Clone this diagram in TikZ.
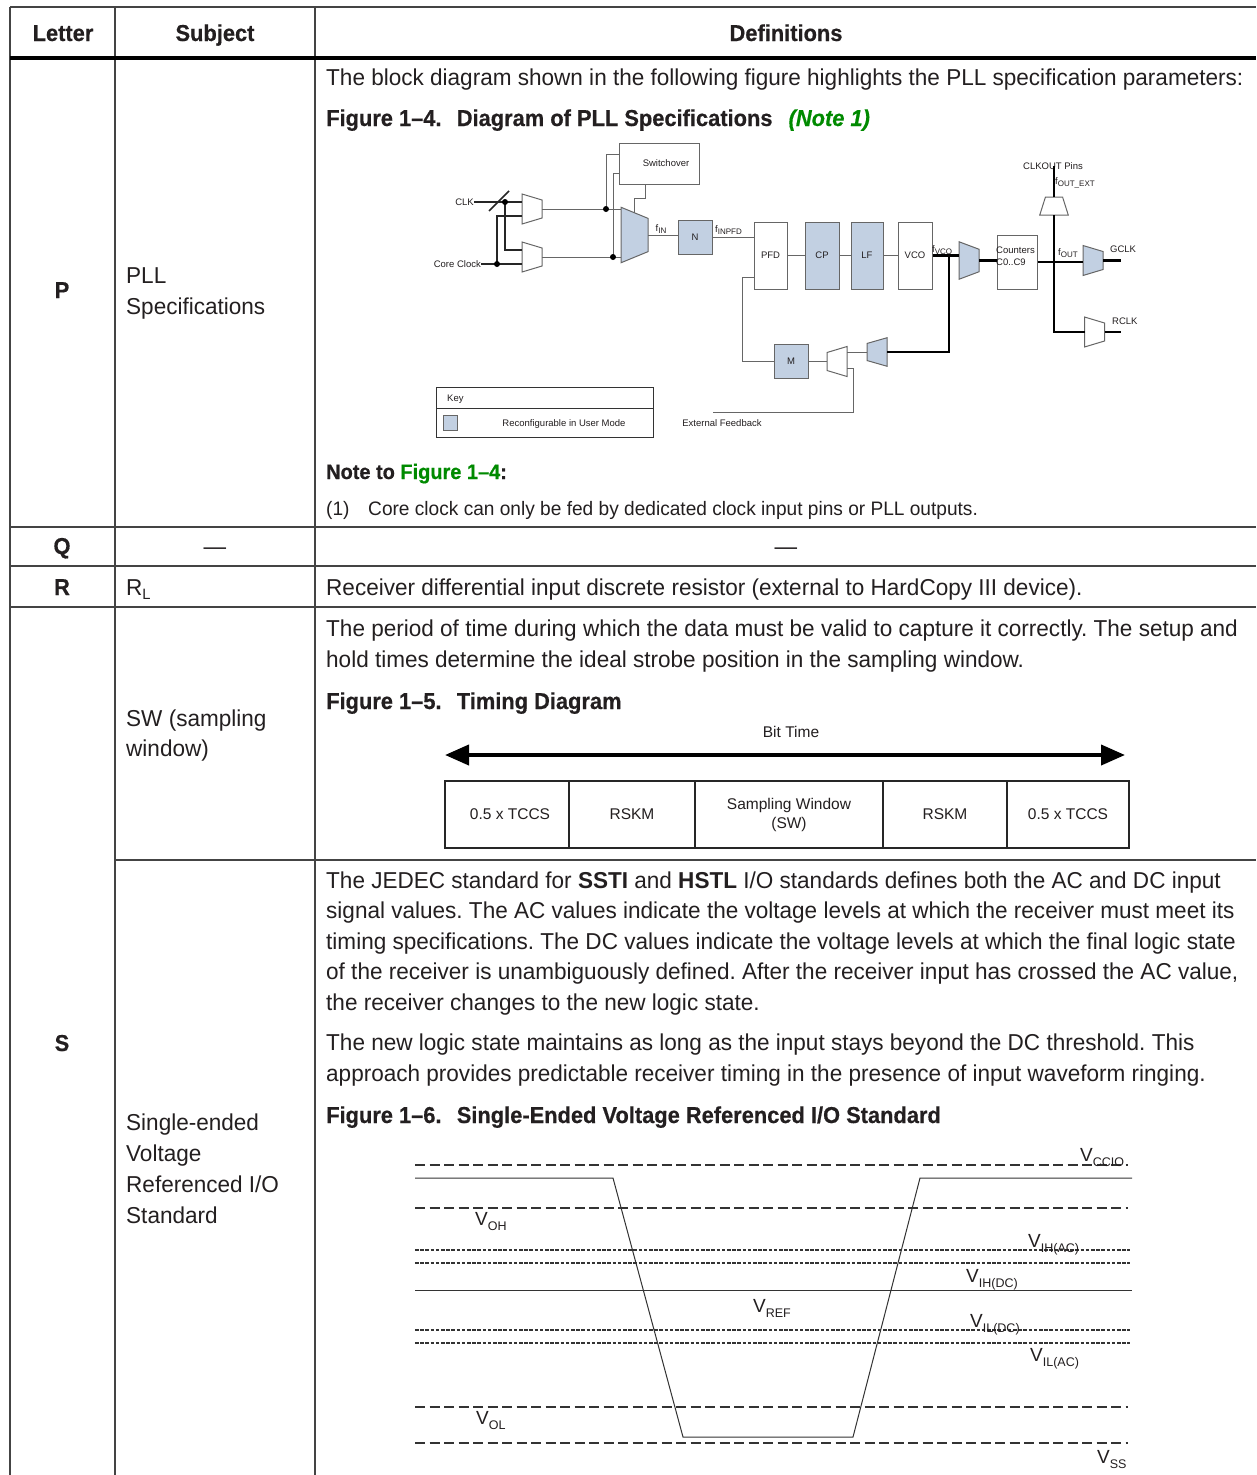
\documentclass[tikz,border=0pt]{standalone}
\usepackage{fontspec}
\setmainfont{Liberation Sans}
\newfontfamily\figfont{Liberation Sans}
\newfontfamily\bodyfont[FakeStretch=0.98]{Liberation Sans}
\newfontfamily\headfont[FakeStretch=0.95,FakeBold=0.5]{Liberation Sans Bold}
\newfontfamily\headitfont[FakeStretch=0.95,FakeBold=0.5]{Liberation Sans Bold Italic}
\usetikzlibrary{arrows.meta,positioning,calc}
\frenchspacing

\definecolor{txt}{HTML}{231F20}
\definecolor{rule}{HTML}{444444}
\definecolor{pllblue}{HTML}{C2D0E2}
\definecolor{pllline}{HTML}{666666}
\definecolor{fignote}{HTML}{008A00}

\newcommand\lsub[1]{\raisebox{-0.25em}{\fontsize{8}{8}\selectfont #1}}
\newcommand\vsub[1]{\raisebox{-0.28em}{\fontsize{12.5}{12.5}\selectfont #1}}

\tikzset{
  body/.style={anchor=base west, inner sep=0pt, align=left, text=txt,
    font=\bodyfont\fontsize{23}{30.5}\selectfont},
  head/.style={anchor=base west, inner sep=0pt, text=txt,
    font=\headfont\fontsize{23}{30}\selectfont},
  hcell/.style={head, anchor=base},
  grid/.style={draw=rule, line width=1.5pt},
  lbl/.style={inner sep=0pt, text=txt, font=\figfont\fontsize{9.5}{11.5}\selectfont},
  blk/.style={draw=pllline, line width=1pt, fill=white, minimum width=34pt,
    minimum height=67pt, inner sep=0pt, text=txt, font=\figfont\fontsize{9.5}{11.5}\selectfont},
  cfg/.style={blk, fill=pllblue},
  wire/.style={draw=pllline, line width=1pt},
  clkln/.style={draw=black!85, line width=1.5pt},
  thickln/.style={draw=black, line width=2.5pt},
  jdot/.style={circle, fill=black, inner sep=0pt, minimum size=6pt},
  tbox/.style={draw=black!85, line width=2pt, minimum height=67pt, inner sep=0pt,
    outer sep=0pt, align=center, text=txt, font=\figfont\fontsize{15.5}{19}\selectfont},
  vlbl/.style={anchor=base west, inner sep=0pt, text=txt, font=\figfont\fontsize{19}{20}\selectfont},
  longdash/.style={draw=black!80, line width=2pt, dash pattern=on 10pt off 4.5pt},
  shortdash/.style={draw=black!80, line width=1.6pt, dash pattern=on 3.5pt off 1.7pt},
  vline/.style={draw=black!80, line width=1pt},
  muxr/.pic={
    \filldraw[draw=pllline, fill=#1, line width=1pt]
      (-10,-15) -- (10,-9) -- (10,9) -- (-10,15) -- cycle;
    \coordinate (-in) at (-10,0);
    \coordinate (-in1) at (-10,-7);
    \coordinate (-in2) at (-10,7);
    \coordinate (-out) at (10,0);
    \coordinate (-sel) at (0,-12);
  }
}

\begin{document}
\begin{tikzpicture}[x=1pt, y=-1pt]
\useasboundingbox[fill=white] (0,0) rectangle (1256,1475);

% table frame
\draw[grid] (10,7) -- (1256,7);
\foreach \x in {10,115,315} \draw[grid] (\x,7) -- (\x,1475);
\draw[line width=4pt] (10,58) -- (1256,58);
\foreach \y in {527,566,607} \draw[grid] (10,\y) -- (1256,\y);
\draw[grid] (115,860) -- (1256,860);

% header
\node[hcell] (hletter) at (63,41) {Letter};
\node[hcell] (hsubject) at (215,41) {Subject};
\node[hcell] (hdef) at (786,41) {Definitions};

% letters and subjects (multi-line nodes sit on their last line)
\node[hcell] (lp) at (62,298) {P};
\node[hcell] (lq) at (62,554) {Q};
\node[hcell] (lr) at (62,595) {R};
\node[hcell] (ls) at (62,1051) {S};
\node[body, font=\bodyfont\fontsize{23}{31}\selectfont] (sp) at (126,314) {PLL\\Specifications};
\node[body, anchor=base] (sq) at (215,554) {—};
\node[body] (sr) at (126,595) {R\raisebox{-4pt}{\fontsize{15}{15}\selectfont L}};
\node[body, font=\bodyfont\fontsize{23}{30}\selectfont] (ssw) at (126,756) {SW (sampling\\window)};
\node[body, font=\bodyfont\fontsize{23}{30.7}\selectfont] (sse) at (126,1223)
  {Single-ended\\Voltage\\Referenced I/O\\Standard};

% definitions
\node[body] (dp) at (326,85) {The block diagram shown in the following figure highlights the PLL specification parameters:};
\node[head] (f14) at (326,126) {Figure 1–4.\hspace{0.4em} Diagram of PLL Specifications\hspace{0.7em}{\headitfont\color{fignote}(Note 1)}};
\node[head, font=\headfont\fontsize{21}{28}\selectfont] (n14) at (326,479) {Note to {\color{fignote}Figure 1–4}:};
\node[body, font=\bodyfont\fontsize{19.5}{26}\selectfont] (n1) at (326,515) {(1)};
\node[body, font=\bodyfont\fontsize{19.5}{26}\selectfont] (n1t) at (368,515) {Core clock can only be fed by dedicated clock input pins or PLL outputs.};
\node[body, anchor=base] (dq) at (786,554) {—};
\node[body] (dr) at (326,595) {Receiver differential input discrete resistor (external to HardCopy III device).};
\node[body] (dsw) at (326,667) {The period of time during which the data must be valid to capture it correctly. The setup and\\hold times determine the ideal strobe position in the sampling window.};
\node[head] (f15) at (326,709) {Figure 1–5.\hspace{0.4em} Timing Diagram};
\node[body] (dse1) at (326,1010) {The JEDEC standard for \textbf{SSTI} and \textbf{HSTL} I/O standards defines both the AC and DC input\\signal values. The AC values indicate the voltage levels at which the receiver must meet its\\timing specifications. The DC values indicate the voltage levels at which the final logic state\\of the receiver is unambiguously defined. After the receiver input has crossed the AC value,\\the receiver changes to the new logic state.};
\node[body] (dse2) at (326,1081) {The new logic state maintains as long as the input stays beyond the DC threshold. This\\approach provides predictable receiver timing in the presence of input waveform ringing.};
\node[head] (f16) at (326,1123) {Figure 1–6.\hspace{0.4em} Single-Ended Voltage Referenced I/O Standard};

% PLL block diagram
\node[blk, minimum width=80pt, minimum height=41pt] (sw) at (659,163.5) {\hspace*{14pt}Switchover};
\node[lbl, anchor=east] (clk) at (474,202) {CLK};
\node[lbl, anchor=east] (core) at (481,264) {Core Clock};
\pic (m1) at (532,209) {muxr=white};
\pic (m2) at (532,257) {muxr=white};
\pic[xscale=1.35, yscale=1.85] (mm) at (634.5,235) {muxr=pllblue};
\node[cfg, minimum height=34pt] (n) at (695,237) {N};
\node[blk, minimum width=33pt] (pfd) at (770.5,255.5) {PFD};
\node[cfg] (cp) at (822,255.5) {CP};
\node[cfg, minimum width=32pt] (lf) at (867,255.5) {LF};
\node[blk] (vco) at (915,255.5) {VCO};
\pic[yscale=1.25] (pv) at (969,260.5) {muxr=pllblue};
\node[blk, minimum width=40pt, minimum height=54pt] (cnt) at (1017,262) {};
\node[lbl, anchor=west, align=left] (cntl) at (996,256) {Counters\\C0..C9};
\pic (g) at (1093,260.5) {muxr=pllblue};
\pic[rotate=90, xscale=0.9, yscale=0.95] (co) at (1054,206) {muxr=white};
\pic (r) at (1094.5,332) {muxr=white};
\node[cfg, minimum height=34pt] (m) at (791,361) {M};
\pic[xscale=-1, yscale=0.95] (fbb) at (877,352) {muxr=pllblue};
\pic[xscale=-1] (fbw) at (837,361.5) {muxr=white};

\coordinate (clkdot) at (505,202);
\coordinate (coredot) at (497,264);
\coordinate (jtop) at (606,209);
\coordinate (jbot) at (613,257);
\coordinate (fvco) at (949,255.5);
\coordinate (fout) at (1054,262);
\coordinate (gend) at (1121,260.5);
\coordinate (rend) at (1121,332);
\coordinate (efb) at (713,412);

\draw[clkln] (clk.east) -- (m1-in1);
\draw[clkln] (clkdot) |- (m2-in1);
\draw[clkln] (core.east) -- (m2-in2);
\draw[clkln] (coredot) |- (m1-in2);
\draw[clkln] (489,211) -- (509,191);
\draw[wire] (m1-out) -- (m1-out -| mm-in);
\draw[wire] (m2-out) -- (m2-out -| mm-in);
\draw[wire] (jtop) |- ([yshift=9.5pt]sw.west);
\draw[wire] (jbot) |- ([yshift=-9.5pt]sw.west);
\draw[wire] ([xshift=-14pt]sw.south) -- ++(0,14) -| (mm-sel);
\draw[wire] (mm-out) -- (mm-out -| n.west);
\draw[wire] (n.east) -- (n.east -| pfd.west);
\draw[wire] (pfd.east) -- (cp.west);
\draw[wire] (cp.east) -- (lf.west);
\draw[wire] (lf.east) -- (vco.west);
\draw[thickln] (vco.east) -- (vco.east -| pv-in);
\draw[thickln] (pv-out) -- (pv-out -| cnt.west);
\draw[thickln] (cnt.east) -- (cnt.east -| g-in);
\draw[thickln] (g-out) -- (gend);
\draw[thickln] (fout) -- (co-in);
\node[lbl] (clkout) at (1053,166) {CLKOUT Pins};
\draw[thickln] (co-out) -- (co-out |- clkout.center);
\draw[thickln] (fout) |- (r-in);
\draw[thickln] (r-out) -- (rend);
\draw[thickln] (fvco) |- (fbb-in);
\draw[wire] (fbb-out) -- (fbb-out -| fbw-in1);
\draw[wire] (fbw-in2) -- ++(6,0) |- (efb);
\draw[wire] (fbw-out) -- (fbw-out -| m.east);
\draw[wire] (m.west) -- ++(-31,0) |- ([yshift=-21.5pt]pfd.west);

\node[jdot] (d1) at (clkdot) {};
\node[jdot] (d2) at (coredot) {};
\node[jdot] (d3) at (jtop) {};
\node[jdot] (d4) at (jbot) {};

\node[lbl] (fin) at (661,229) {f\lsub{IN}};
\node[lbl, anchor=west] (finpfd) at (715,230) {f\lsub{INPFD}};
\node[lbl, anchor=west] (fvcol) at (932,250) {f\lsub{VCO}};
\node[lbl, anchor=west] (foutl) at (1058,253) {f\lsub{OUT}};
\node[lbl, anchor=west] (gclk) at (1110,249) {GCLK};
\node[lbl, anchor=west] (rclk) at (1112,321) {RCLK};
\node[lbl, anchor=west] (foutext) at (1055,183) {f\lsub{OUT\_EXT}};
\node[lbl] (extfbl) at (722,423) {External Feedback};

% key
\node[draw=black!80, line width=1pt, minimum width=217pt, minimum height=50pt, inner sep=0pt,
  anchor=north west] (key) at (436,387) {};
\draw[draw=black!80, line width=1pt] ([yshift=-21pt]key.north west) -- ([yshift=-21pt]key.north east);
\node[lbl, anchor=west] (keyl) at (447,399) {Key};
\node[cfg, minimum width=14pt, minimum height=15pt] (keysq) at (450,422.5) {};
\node[lbl] (keyt) at (564,424) {Reconfigurable in User Mode};

% timing diagram
\node[lbl, font=\figfont\fontsize{15.5}{19}\selectfont] (bittime) at (791,732) {Bit Time};
\coordinate (bta) at (445,755);
\coordinate (btb) at (1125,755);
\draw[line width=4pt, {Triangle[length=24pt,width=20pt]}-{Triangle[length=24pt,width=20pt]}] (bta) -- (btb);
\node[tbox, minimum width=124pt] (t1) at (507,814.5) {\hspace*{6pt}0.5 x TCCS};
\node[tbox, minimum width=126pt, right=0pt of t1] (t2) {RSKM};
\node[tbox, minimum width=188pt, right=0pt of t2] (t3) {Sampling Window\\(SW)};
\node[tbox, minimum width=124pt, right=0pt of t3] (t4) {RSKM};
\node[tbox, minimum width=122pt, right=0pt of t4] (t5) {0.5 x TCCS};

% voltage levels
\foreach \y in {1165,1208,1407,1443} \draw[longdash] (415,\y) -- (1128,\y);
\foreach \y in {1250,1263,1330,1343} \draw[shortdash] (415,\y) -- (1130,\y);
\draw[vline] (415,1290) -- (1132,1290);
\draw[vline] (415,1178) -- (613,1178) -- (683,1437) -- (853,1437) -- (920,1178) -- (1132,1178);
\node[vlbl] (vccio) at (1080,1161) {V\vsub{CCIO}};
\node[vlbl] (voh) at (475,1225) {V\vsub{OH}};
\node[vlbl] (vihac) at (1028,1247) {V\vsub{IH(AC)}};
\node[vlbl] (vihdc) at (966,1282) {V\vsub{IH(DC)}};
\node[vlbl] (vref) at (753,1312) {V\vsub{REF}};
\node[vlbl] (vildc) at (970,1327) {V\vsub{IL(DC)}};
\node[vlbl] (vilac) at (1030,1361) {V\vsub{IL(AC)}};
\node[vlbl] (vol) at (476,1424) {V\vsub{OL}};
\node[vlbl] (vss) at (1097,1463) {V\vsub{SS}};
\end{tikzpicture}
\end{document}
